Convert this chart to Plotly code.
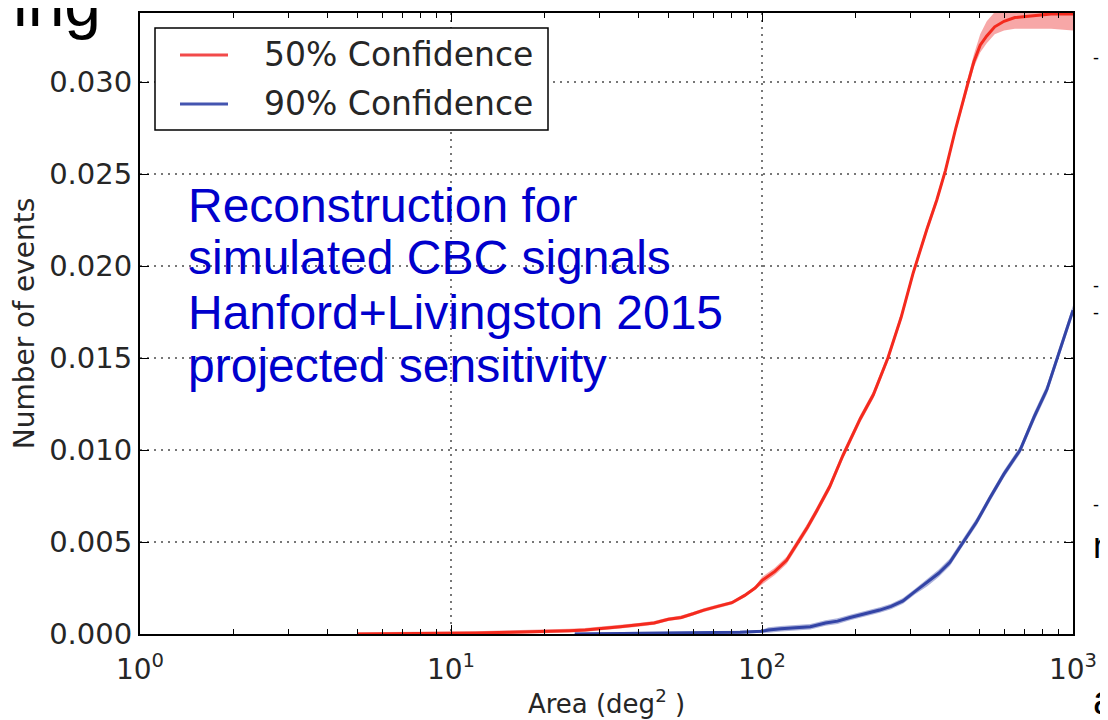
import plotly.graph_objects as go

# ---- data ----
red_x = [5, 8, 12, 15.5, 20, 24, 27, 31, 35, 40, 45, 50, 55, 60, 65, 72, 80, 88, 95,
         100, 110, 120, 130, 140, 150, 165, 182, 195, 207, 228, 254, 280, 306, 339,
         365, 389, 420, 457, 480, 503, 528, 560, 600, 650, 742, 850, 1000]
red_y = [0.0, 0.00002, 0.00005, 0.0001, 0.00013, 0.00018, 0.00022, 0.0003, 0.0004,
         0.0005, 0.0006, 0.0008, 0.0009, 0.0011, 0.0013, 0.0015, 0.0017, 0.0021, 0.0025,
         0.0029, 0.0034, 0.0040, 0.0049, 0.0058, 0.0067, 0.0080, 0.0097, 0.0108, 0.0117,
         0.0130, 0.0150, 0.0172, 0.0196, 0.0220, 0.0236, 0.0252, 0.0275, 0.0298, 0.0311,
         0.0320, 0.0325, 0.0330, 0.0333, 0.0335, 0.0336, 0.0337, 0.0337]
red_err_up = [0.0001] * 19 + [0.0002] * 18 + [0.0003, 0.0004, 0.0006, 0.0008, 0.0008,
                                                0.0008, 0.0008, 0.0008, 0.0008, 0.0008, 0.0008]
red_err_dn = [0.0001] * 19 + [0.0002] * 18 + [0.0003, 0.0003, 0.0004, 0.0004, 0.0004,
                                                0.0005, 0.0006, 0.0007, 0.0008, 0.0009, 0.0009]

blue_x = [25, 35, 50, 70, 85, 100, 105, 115, 125, 143, 160, 175, 192, 215, 239, 260,
          284, 310, 340, 370, 402, 443, 490, 541, 600, 676, 750, 825, 900, 1000]
blue_y = [0.0, 0.00002, 0.00004, 0.00007, 0.0001, 0.00015, 0.00022, 0.00028, 0.00032,
          0.0004, 0.0006, 0.0007, 0.0009, 0.0011, 0.0013, 0.0015, 0.0018, 0.0023, 0.0028,
          0.0033, 0.0039, 0.0050, 0.0061, 0.0074, 0.0087, 0.0100, 0.0118, 0.0133, 0.0152,
          0.0176]
blue_err = [0.00008] * 6 + [0.00015] * 12 + [0.0002] * 8 + [0.00025] * 4

series_names = ["50% Confidence", "90% Confidence"]
x_tickvals = [1, 10, 100, 1000]
x_ticktext = ["10<sup>0</sup>", "10<sup>1</sup>", "10<sup>2</sup>", "10<sup>3</sup>"]
x_minor_ticks = [2, 3, 4, 5, 6, 7, 8, 9, 20, 30, 40, 50, 60, 70, 80, 90,
                 200, 300, 400, 500, 600, 700, 800, 900]
y_tickvals = [0.0, 0.005, 0.010, 0.015, 0.020, 0.025, 0.030]
note_lines = ["Reconstruction for", "simulated CBC signals",
              "Hanford+Livingston 2015", "projected sensitivity"]

RED = "#f42a1e"
RED_LEG = "#f24a4a"
RED_BAND = "rgba(240,95,95,0.55)"
BLUE = "#3344a6"
BLUE_LEG = "#4455b0"
BLUE_BAND = "rgba(70,85,175,0.45)"
TXT = "#262626"
FONT = "DejaVu Sans"
SLIDE_FONT = "Liberation Sans, Arial"

# The page body has an 8px margin, so the figure is drawn 8px in from the window edge.
OFF = 8
FIG_W, FIG_H = 1108 - OFF, 720 - OFF
# plot-area geometry in window pixels
L, R, T, B = 140, 1073, 13, 634
W, H = R - L, B - T


def px(xp):
    return (xp - L) / W


def py(yp):
    return (B - yp) / H


fig = go.Figure()


def add_band(x, y, up, dn, color):
    lo = [v - d for v, d in zip(y, dn)]
    hi = [v + u for v, u in zip(y, up)]
    fig.add_trace(go.Scatter(x=x, y=lo, mode="lines", line=dict(width=0),
                             showlegend=False, hoverinfo="skip"))
    fig.add_trace(go.Scatter(x=x, y=hi, mode="lines", line=dict(width=0),
                             fill="tonexty", fillcolor=color, showlegend=False,
                             hoverinfo="skip"))


add_band(red_x, red_y, red_err_up, red_err_dn, RED_BAND)
add_band(blue_x, blue_y, blue_err, blue_err, BLUE_BAND)

fig.add_trace(go.Scatter(x=red_x, y=red_y, mode="lines", name=series_names[0],
                         line=dict(color=RED, width=3), showlegend=False))
fig.add_trace(go.Scatter(x=blue_x, y=blue_y, mode="lines", name=series_names[1],
                         line=dict(color=BLUE, width=3), showlegend=False))

fig.update_layout(
    width=FIG_W, height=FIG_H,
    margin=dict(l=L - OFF, r=1108 - R, t=T - OFF, b=720 - B, autoexpand=False),
    paper_bgcolor="white", plot_bgcolor="white",
    font=dict(family=FONT, color=TXT),
    showlegend=False,
)

fig.update_xaxes(
    type="log", range=[0, 3], automargin=False,
    tickvals=x_tickvals, ticktext=x_ticktext,
    tickfont=dict(size=28, family=FONT, color=TXT),
    ticks="inside", ticklen=9, tickwidth=1.3, tickcolor="black",
    ticklabelstandoff=9,
    showline=True, linecolor="black", linewidth=2, mirror="ticks",
    showgrid=True, gridcolor="#777", gridwidth=1.5, griddash="2px,5px",
    minor=dict(tickvals=x_minor_ticks, ticks="inside", ticklen=5, tickwidth=1,
               tickcolor="black", showgrid=False),
    zeroline=False,
    title=dict(text="Area (deg<sup>2</sup> )", font=dict(size=26, family=FONT, color=TXT),
               standoff=10),
)
fig.update_yaxes(
    range=[0, 0.03375], automargin=False,
    tickvals=y_tickvals, tickformat=".3f",
    tickfont=dict(size=29, family=FONT, color=TXT),
    ticks="inside", ticklen=9, tickwidth=1.3, tickcolor="black",
    showline=True, linecolor="black", linewidth=2, mirror="ticks",
    showgrid=True, gridcolor="#777", gridwidth=1.5, griddash="2px,5px",
    zeroline=False,
    title=dict(text="Number of events", font=dict(size=28, family=FONT, color=TXT),
               standoff=8),
)

# legend drawn by hand to match the reference box
fig.add_shape(type="rect", xref="paper", yref="paper",
              x0=px(155), x1=px(548), y0=py(130), y1=py(28),
              line=dict(color="black", width=1.5), fillcolor="white", layer="above")
legend_rows = [(series_names[0], RED_LEG, 55), (series_names[1], BLUE_LEG, 104)]
for name, col, ypx in legend_rows:
    fig.add_shape(type="line", xref="paper", yref="paper",
                  x0=px(180), x1=px(228), y0=py(ypx), y1=py(ypx),
                  line=dict(color=col, width=3), layer="above")
    fig.add_annotation(text=name, xref="paper", yref="paper",
                       x=px(262), y=py(ypx), xanchor="left", yanchor="middle",
                       showarrow=False, font=dict(size=33, family=FONT, color=TXT))

# blue slide annotation, one line per annotation
line_y_px = [205, 258, 312, 365]
for txt, ypx in zip(note_lines, line_y_px):
    fig.add_annotation(text=txt, xref="paper", yref="paper",
                       x=px(186), y=py(ypx),
                       xanchor="left", yanchor="middle", showarrow=False,
                       font=dict(size=48, family=SLIDE_FONT, color="#0000cc"))

# fragment of slide title text at top-left
fig.add_annotation(text="ing", xref="paper", yref="paper",
                   x=px(11), y=py(3),
                   xanchor="left", yanchor="middle", showarrow=False,
                   font=dict(size=66, family=SLIDE_FONT, color="black"))

# fragments of slide bullet text cut off at the right edge
edge_fragments = [("-", 58, 18), ("-", 286, 18), ("-", 313, 18), ("-", 505, 18),
                  ("n", 545, 36), ("a", 700, 40)]
for txt, ypx, size in edge_fragments:
    fig.add_annotation(text=txt, xref="paper", yref="paper",
                       x=px(1091), y=py(ypx), xanchor="left", yanchor="middle",
                       showarrow=False,
                       font=dict(size=size, family=SLIDE_FONT, color="black"))

fig.write_html("out.html")
